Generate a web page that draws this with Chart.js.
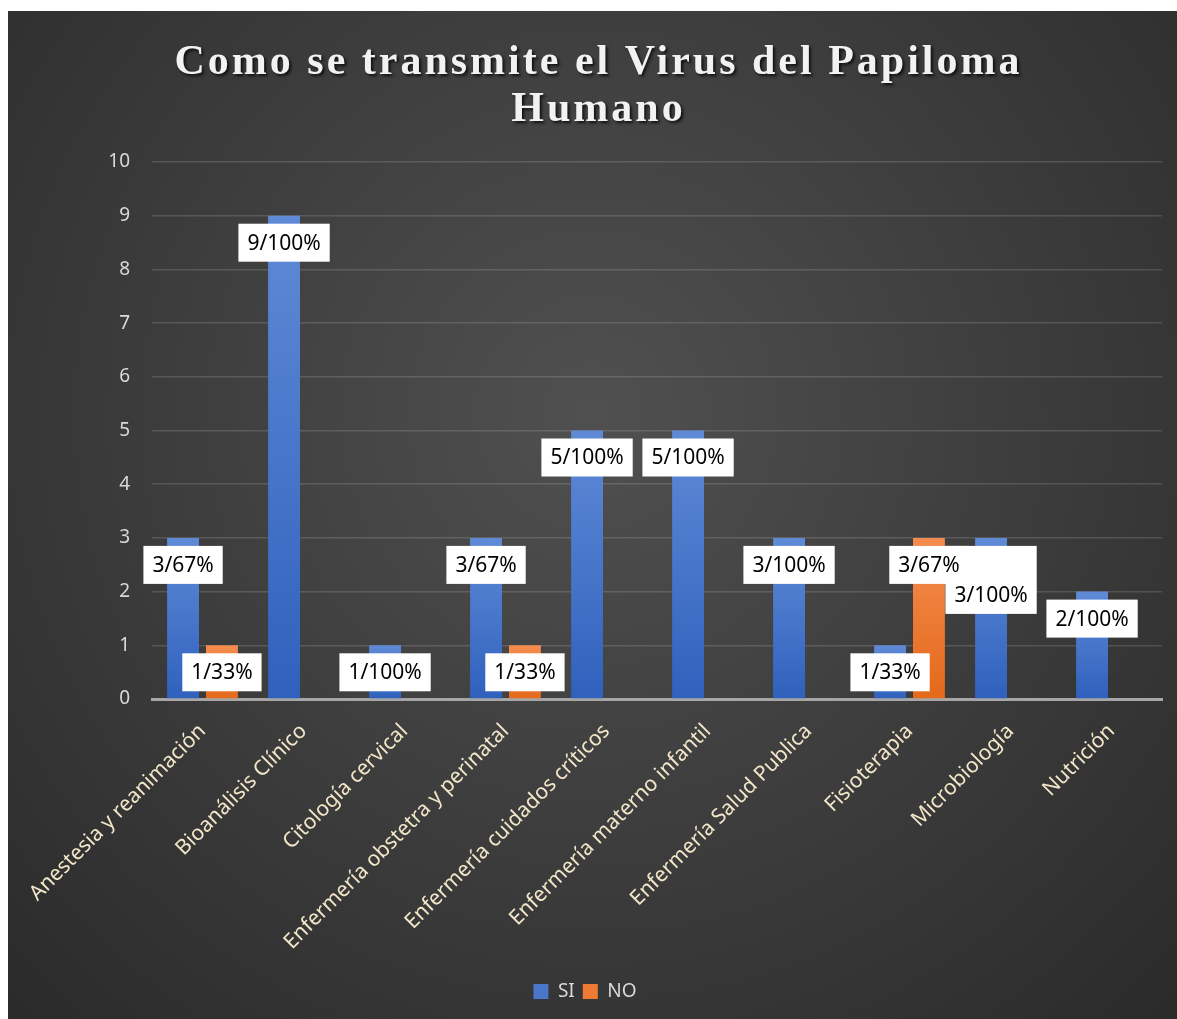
<!DOCTYPE html>
<html>
<head>
<meta charset="utf-8">
<script src="https://cdn.jsdelivr.net/npm/chart.js@4.4.1/dist/chart.umd.min.js"></script>
<style>
  body { margin: 0; background: #ffffff; }
  #wrap { position: absolute; left: 8px; top: 11px; width: 1169px; height: 1008px; }
</style>
</head>
<body>
<div id="wrap"><canvas id="barChart"></canvas></div>
<script>
(function () {
    "use strict";

    var titleLines = [ "Como se transmite el Virus del Papiloma", "Humano" ];
    var categories = [ "Anestesia y reanimación", "Bioanálisis Clínico", "Citología cervical",
        "Enfermería obstetra y perinatal", "Enfermería cuidados críticos", "Enfermería materno infantil",
        "Enfermería Salud Publica", "Fisioterapia", "Microbiología", "Nutrición" ];
    var siValues = [ 3, 9, 1, 3, 5, 5, 3, 1, 3, 2 ];
    var noValues = [ 1, null, null, 1, null, null, null, 3, null, null ];
    var siLabels = [ "3/67%", "9/100%", "1/100%", "3/67%", "5/100%", "5/100%", "3/100%", "1/33%", "3/100%", "2/100%" ];
    var noLabels = [ "1/33%", "", "", "1/33%", "", "", "", "3/67%", "", "" ];
    var yTicks = [ 0, 1, 2, 3, 4, 5, 6, 7, 8, 9, 10 ];

    var FONT = "'Noto Sans'";

    // per-bar vertical gradient like the excel style
    function barFill(top, bottom) {
        return function (c) {
            var chart = c.chart;
            if (!chart.chartArea || c.parsed == null || c.parsed.y == null) return top;
            var y = chart.scales.y;
            var y0 = y.getPixelForValue(c.parsed.y);
            var y1 = y.getPixelForValue(0);
            if (!isFinite(y0) || y0 === y1) return top;
            var g = chart.ctx.createLinearGradient(0, y0, 0, y1);
            g.addColorStop(0, top);
            g.addColorStop(1, bottom);
            return g;
        };
    }

    var background = {
        id: "background",
        beforeDraw: function (chart) {
            var ctx = chart.ctx, w = chart.width, h = chart.height;
            ctx.save();
            var g = ctx.createRadialGradient(w * 0.5, h * 0.4, 0, w * 0.5, h * 0.4, w * 0.78);
            g.addColorStop(0, "#505050");
            g.addColorStop(1, "#272727");
            ctx.fillStyle = g;
            ctx.fillRect(0, 0, w, h);
            ctx.restore();
        }
    };

    var titlePlugin = {
        id: "bigTitle",
        afterDraw: function (chart) {
            var ctx = chart.ctx;
            ctx.save();
            ctx.font = "bold 42px 'Liberation Serif'";
            ctx.letterSpacing = "3px";
            ctx.textAlign = "center";
            ctx.textBaseline = "alphabetic";
            ctx.fillStyle = "#f2f2f2";
            ctx.shadowColor = "rgba(0,0,0,0.75)";
            ctx.shadowOffsetX = 2;
            ctx.shadowOffsetY = 2;
            ctx.shadowBlur = 3;
            ctx.fillText(titleLines[0], chart.width / 2 + 6, 63);
            ctx.fillText(titleLines[1], chart.width / 2 + 6, 110);
            ctx.restore();
        }
    };

    var valueLabels = {
        id: "valueLabels",
        afterDatasetsDraw: function (chart) {
            var ctx = chart.ctx;
            var texts = [ siLabels, noLabels ];
            var placed = [];
            ctx.save();
            ctx.font = "21px " + FONT;
            ctx.textAlign = "center";
            ctx.textBaseline = "middle";
            for (var i = 0; i < categories.length; i++) {
                for (var d = 0; d < 2; d++) {
                    var txt = texts[d][i];
                    if (!txt) continue;
                    var bar = chart.getDatasetMeta(d).data[i];
                    var w = ctx.measureText(txt).width + 18;
                    var h = 38;
                    var box = { x: bar.x - w / 2, y: bar.y + 8, w: w, h: h, top: bar.y + 8, txt: txt, cx: bar.x };
                    for (var k = 0; k < placed.length; k++) {
                        var p = placed[k];
                        if (box.x < p.x + p.w && box.x + box.w > p.x && box.y < p.y + p.h && box.y + box.h > p.y) {
                            box.y = box.y + 30;
                        }
                    }
                    placed.push(box);
                }
            }
            // boxes first, then the texts on top
            ctx.fillStyle = "#ffffff";
            placed.forEach(function (b) {
                ctx.fillRect(b.x, b.top, b.w, b.y + b.h - b.top);
            });
            ctx.fillStyle = "#000000";
            placed.forEach(function (b) {
                ctx.fillText(b.txt, b.cx, b.y + b.h / 2 + 1);
            });
            ctx.restore();
        }
    };

    var ctx = document.getElementById("barChart");
    var myChart = new Chart(ctx, {
        type: "bar",
        data: {
            labels: categories,
            datasets: [
                {
                    label: "SI",
                    data: siValues,
                    backgroundColor: barFill("#5f8ad6", "#2f61bd")
                },
                {
                    label: "NO",
                    data: noValues,
                    backgroundColor: barFill("#f58c4f", "#e4691b")
                }
            ]
        },
        options: {
            responsive: true,
            maintainAspectRatio: false,
            animation: false,
            datasets: {
                bar: { categoryPercentage: 0.77, barPercentage: 0.82 }
            },
            layout: {
                padding: { top: 151, right: 15, bottom: 8, left: 0 }
            },
            plugins: {
                title: { display: false },
                tooltip: { enabled: false },
                legend: {
                    position: "bottom",
                    labels: {
                        color: "#d9d9d9",
                        font: { family: FONT, size: 19 },
                        boxWidth: 15,
                        boxHeight: 15,
                        padding: 8,
                        generateLabels: function (chart) {
                            var cols = [ "#4a76ca", "#ee7a33" ];
                            return chart.data.datasets.map(function (ds, i) {
                                return { text: ds.label, fillStyle: cols[i], strokeStyle: cols[i], lineWidth: 0, fontColor: "#d9d9d9", datasetIndex: i };
                            });
                        }
                    }
                }
            },
            scales: {
                x: {
                    grid: { display: false, drawTicks: false },
                    border: { display: true, color: "#a6a6a6", width: 3 },
                    ticks: {
                        color: "#f2e6c8",
                        font: { family: FONT, size: 21 },
                        minRotation: 45,
                        maxRotation: 45,
                        padding: 20
                    },
                    afterFit: function (scale) {
                        scale.height = 275;
                        scale.paddingLeft = 0;
                        scale.paddingRight = 0;
                    }
                },
                y: {
                    min: 0,
                    max: 10,
                    afterBuildTicks: function (scale) {
                        scale.ticks = yTicks.map(function (v) { return { value: v }; });
                    },
                    grid: { color: "rgba(255,255,255,0.14)", lineWidth: 1.5, drawTicks: false },
                    border: { display: false },
                    ticks: {
                        color: "#d9d9d9",
                        font: { family: FONT, size: 19 },
                        padding: 22
                    },
                    afterFit: function (scale) { scale.width = 144; }
                }
            }
        },
        plugins: [ background, valueLabels, titlePlugin ]
    });
})();
</script>
</body>
</html>
